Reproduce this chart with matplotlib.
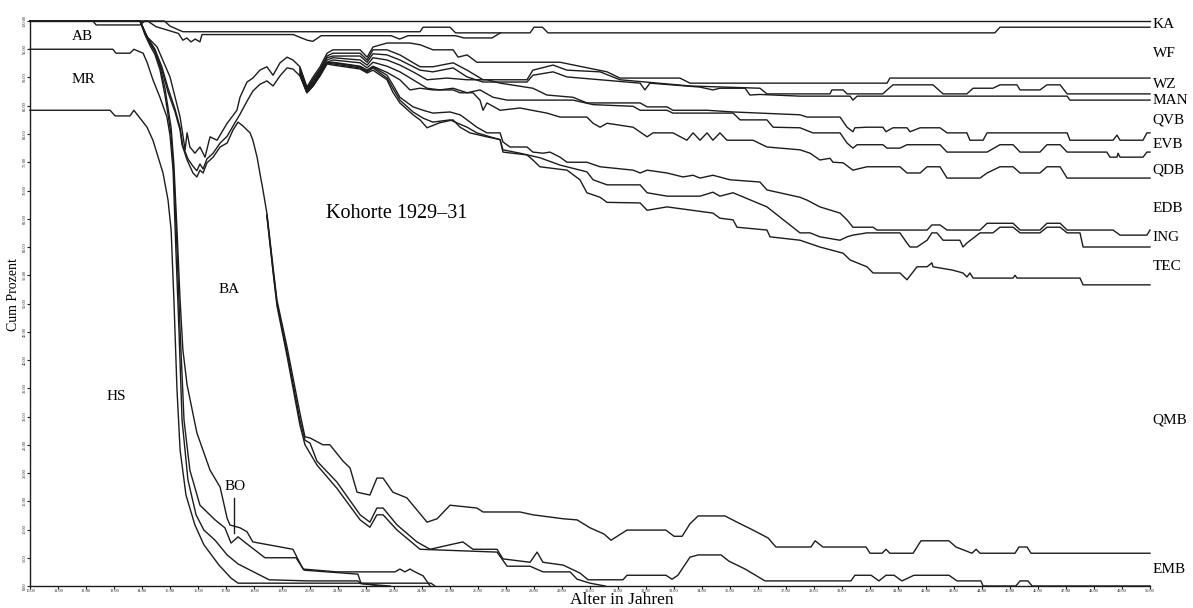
import matplotlib
matplotlib.use("Agg")
import matplotlib.pyplot as plt

plt.rcParams['font.family'] = ['Liberation Serif', 'DejaVu Serif']

# cumulative boundaries (age in years, cumulative percent), top to bottom
top_age = [10, 50]
top_pct = [100, 100]

ka_age = [10, 12.25, 12.36, 13.93, 14.1, 14.8, 15.0, 15.46, 23.93, 24.04, 25.0, 25.2, 27.86, 28.0, 28.3, 28.5, 44.46, 44.64, 50]
ka_pct = [100, 100, 99.3, 99.3, 100, 100, 99.1, 98.1, 98.1, 98.9, 98.9, 97.9, 97.9, 98.9, 98.9, 97.9, 97.9, 98.9, 98.9]

ka2_age = [10, 14.2, 14.5, 15.3, 15.46, 15.6, 15.75, 15.9, 16.07, 16.14, 19.4, 19.9, 20.1, 20.4, 22.9, 23.2, 23.5, 25.2, 25.5, 26.5, 26.8]
ka2_pct = [100, 100, 99.0, 97.8, 96.6, 97.0, 96.3, 96.8, 96.3, 97.6, 97.6, 96.6, 96.4, 97.4, 97.4, 96.8, 97.4, 97.4, 97.0, 97.0, 97.9]

wf_age = [10, 13.93, 14.18, 14.54, 15.0, 15.36, 15.54, 15.61, 15.71, 15.89, 16.07, 16.25, 16.43, 16.68, 17.04,
          17.39, 17.5, 17.75, 17.96, 18.21, 18.46, 18.68, 18.93, 19.18, 19.39, 19.64, 19.89, 20.11, 20.36, 20.61,
          20.82, 21.79, 22.04, 22.25, 22.75, 23.57, 23.93, 24.39, 25.11, 25.29, 25.61, 25.96, 28.93, 30.61, 31.07,
          33.21, 33.57, 40.61, 40.71, 50]
wf_pct = [100, 100, 97.2, 95.4, 90.1, 83.0, 77.2, 80.2, 77.7, 76.6, 77.7, 75.9, 79.5, 78.9, 81.9,
          84.2, 86.5, 89.2, 89.9, 91.3, 91.9, 90.4, 92.6, 93.6, 93.1, 91.9, 88.3, 90.1, 91.9, 94.3,
          94.9, 94.9, 93.6, 95.4, 96.1, 96.1, 95.8, 94.9, 94.9, 93.6, 94.0, 92.7, 92.7, 91.0, 89.9,
          89.9, 89.0, 89.0, 89.9, 89.9]

wz_age = [19.64, 19.89, 20.11, 20.36, 20.61, 20.82, 21.79, 22.04, 22.25, 22.75, 23.21, 23.93, 24.39, 25.11, 25.61,
          26.18, 27.75, 27.96, 28.68, 29.18, 30.36, 31.07, 33.57, 36.07, 36.32, 37.5, 38.57, 38.64, 39.04, 39.18,
          40.46, 40.61, 40.82, 42.25, 42.61, 43.46, 43.68, 44.39, 44.64, 45.25, 45.36, 46.07, 46.32, 46.79, 47.04, 50]
wz_pct = [91.7, 88.1, 89.7, 91.5, 93.8, 94.3, 94.3, 93.1, 94.9, 94.9, 94.0, 91.9, 91.9, 92.6, 91.3,
          89.6, 89.6, 91.3, 92.2, 91.3, 91.0, 89.6, 88.5, 88.1, 87.1, 87.1, 87.1, 87.8, 87.8, 87.1,
          87.1, 87.8, 88.7, 88.7, 87.1, 87.1, 88.1, 88.1, 88.7, 88.7, 87.8, 87.8, 88.7, 88.7, 87.1, 87.1]

man_age = [19.64, 19.89, 20.11, 20.36, 20.61, 20.82, 21.79, 22.04, 22.25, 22.75, 23.21, 23.93, 24.39, 25.11, 25.61,
           26.18, 27.75, 27.96, 28.68, 29.18, 30.36, 31.79, 31.96, 32.14, 33.93, 34.39, 34.64, 35.54, 35.71, 36.07,
           37.5, 39.29, 39.39, 39.54, 47.04, 47.14, 50]
man_pct = [91.5, 88.0, 89.6, 91.2, 93.5, 93.8, 93.8, 92.7, 94.2, 94.0, 93.1, 91.3, 91.0, 91.7, 90.1,
           89.2, 89.2, 90.4, 91.0, 90.1, 89.6, 89.0, 87.8, 89.0, 88.3, 87.8, 88.1, 88.1, 86.9, 87.0,
           86.7, 86.7, 86.0, 86.7, 86.7, 86.0, 86.0]

qvb_age = [19.64, 19.89, 20.11, 20.36, 20.61, 20.82, 21.79, 22.04, 22.25, 22.75, 23.21, 23.68, 24.18, 24.89, 25.61,
           26.32, 26.79, 27.96, 28.46, 29.39, 29.89, 31.79, 32.04, 32.75, 32.96, 34.18, 35.11, 37.5, 37.75, 38.93,
           39.18, 39.39, 39.46, 39.89, 40.46, 40.57, 40.82, 41.32, 41.43, 41.79, 42.5, 42.75, 43.46, 43.57, 44.04,
           44.18, 47.04, 47.14, 48.68, 48.82, 48.93, 49.75, 49.89, 50]
qvb_pct = [91.3, 87.8, 89.2, 91.0, 93.1, 93.5, 93.1, 92.2, 93.5, 93.1, 92.2, 91.0, 89.6, 89.9, 89.6,
           89.6, 89.0, 88.1, 86.9, 86.5, 85.5, 85.5, 84.8, 84.8, 84.2, 84.2, 83.9, 83.4, 83.0, 83.0,
           81.2, 80.4, 81.1, 81.2, 81.2, 80.4, 81.1, 81.1, 80.4, 81.1, 81.1, 80.2, 80.2, 78.9, 78.9,
           80.2, 80.2, 78.9, 78.9, 79.8, 78.9, 78.9, 80.2, 80.2]

evb_age = [19.64, 19.89, 20.11, 20.36, 20.61, 20.82, 21.79, 22.04, 22.25, 22.75, 23.21, 23.68, 24.18, 24.64, 25.11,
           25.61, 26.07, 26.54, 27.04, 28.93, 29.39, 30.11, 31.54, 31.79, 32.75, 32.96, 35.11, 35.36, 36.32, 36.54,
           37.5, 37.96, 38.93, 39.18, 39.39, 39.54, 40.46, 40.61, 41.07, 41.32, 42.5, 42.75, 44.18, 44.64, 45.11,
           45.36, 46.07, 46.32, 46.79, 47.04, 48.46, 48.57, 48.82, 48.86, 48.93, 49.75, 49.89, 50]
evb_pct = [91.0, 87.6, 89.0, 90.8, 92.7, 93.1, 92.6, 91.7, 92.7, 92.0, 91.0, 89.6, 88.1, 87.8, 88.1,
           87.3, 87.8, 86.5, 86.0, 86.0, 86.0, 85.2, 84.9, 84.2, 84.2, 83.7, 83.7, 82.5, 82.5, 81.2,
           81.1, 80.2, 80.2, 78.4, 77.5, 78.1, 78.1, 77.5, 77.5, 78.1, 78.1, 76.8, 76.8, 78.1, 78.1,
           76.8, 76.8, 78.1, 78.1, 76.8, 76.8, 75.9, 75.9, 76.6, 75.9, 75.9, 76.8, 76.8]

qdb_age = [19.64, 19.89, 20.11, 20.36, 20.61, 20.82, 21.79, 22.04, 22.25, 22.75, 23.21, 23.57, 23.93, 24.39, 25.11,
           25.36, 25.82, 26.07, 26.18, 26.32, 26.79, 27.5, 28.46, 28.93, 29.89, 30.11, 30.36, 30.61, 31.54, 32.04,
           32.25, 32.96, 33.46, 33.68, 33.93, 34.18, 34.39, 34.64, 34.89, 35.82, 36.32, 37.5, 37.86, 38.21, 38.57,
           38.68, 39.04, 39.39, 39.89, 41.07, 41.32, 41.79, 42.04, 42.5, 42.75, 43.93, 44.18, 44.64, 45.11, 45.36,
           46.07, 46.32, 46.79, 47.04, 50]
qdb_pct = [90.8, 87.4, 88.8, 90.6, 92.6, 92.7, 92.0, 91.3, 92.0, 90.9, 89.6, 87.8, 88.1, 87.8, 87.8,
           87.3, 87.3, 86.0, 84.2, 85.5, 84.2, 84.6, 83.7, 83.0, 83.0, 81.9, 81.2, 81.9, 81.2, 79.5,
           80.2, 80.2, 78.9, 80.2, 78.9, 80.2, 78.9, 80.2, 78.9, 78.9, 77.7, 77.2, 76.6, 75.4, 75.7,
           75.0, 74.9, 73.6, 74.2, 74.2, 73.1, 73.1, 74.2, 74.2, 72.2, 72.2, 73.1, 74.2, 74.2, 73.1,
           73.1, 74.2, 74.2, 72.2, 72.2]

edb_age = [19.64, 19.89, 20.11, 20.36, 20.61, 20.82, 21.79, 22.04, 22.25, 22.75, 22.96, 23.21, 23.68, 24.04, 24.39,
           25.0, 25.36, 25.61, 25.96, 26.32, 26.79, 26.89, 27.14, 27.75, 27.96, 28.32, 28.57, 28.93, 29.18, 29.89,
           30.36, 31.54, 31.79, 32.04, 32.75, 33.32, 33.68, 33.93, 34.39, 35.0, 36.07, 36.32, 37.5, 37.75, 38.21,
           38.93, 39.18, 39.39, 40.11, 40.25, 42.04, 42.21, 42.5, 42.75, 43.93, 44.18, 45.11, 45.36, 46.07, 46.32,
           46.79, 47.04, 48.68, 48.93, 49.89, 50]
edb_pct = [90.6, 87.4, 88.7, 90.4, 92.6, 92.6, 91.9, 91.2, 91.9, 90.4, 88.7, 86.5, 84.8, 84.2, 83.7,
           83.9, 83.4, 82.5, 81.2, 80.2, 80.2, 78.6, 77.7, 77.7, 76.8, 76.6, 76.8, 75.9, 75.0, 75.0,
           74.2, 73.6, 73.1, 73.6, 73.1, 72.4, 72.7, 72.2, 72.7, 71.9, 71.5, 70.1, 68.8, 68.3, 67.1,
           66.0, 64.8, 63.5, 63.5, 63.0, 63.0, 63.9, 63.9, 63.0, 63.0, 64.2, 64.2, 63.0, 63.0, 64.2,
           64.2, 63.0, 63.0, 62.1, 62.1, 63.0]

ing_age = [19.64, 19.89, 20.11, 20.36, 20.61, 20.82, 21.79, 22.04, 22.25, 22.75, 22.96, 23.21, 23.68, 24.04, 24.39,
           25.0, 25.61, 25.96, 26.43, 26.79, 26.89, 27.5, 28.21, 28.93, 29.89, 30.11, 30.61, 31.79, 32.04, 32.75,
           33.93, 34.39, 34.64, 35.11, 36.32, 37.14, 37.5, 37.86, 38.21, 38.93, 39.18, 39.39, 39.89, 41.07, 41.32,
           41.43, 41.68, 42.04, 42.21, 42.39, 42.61, 43.21, 43.32, 43.46, 43.93, 44.39, 44.64, 45.11, 45.36, 46.07,
           46.32, 46.79, 47.04, 47.5, 47.61, 50]
ing_pct = [90.4, 87.3, 88.5, 90.4, 92.6, 92.4, 91.7, 91.0, 91.7, 89.9, 88.1, 86.0, 83.9, 82.8, 82.1,
           82.5, 81.2, 80.2, 79.5, 79.0, 77.2, 76.6, 75.8, 74.5, 73.3, 71.9, 71.0, 71.0, 69.6, 69.0,
           69.0, 69.7, 69.0, 69.6, 67.1, 63.9, 62.5, 62.5, 61.8, 61.2, 61.8, 62.1, 62.5, 62.5, 60.7,
           60.0, 60.0, 61.2, 62.5, 62.5, 61.2, 61.2, 60.0, 60.7, 62.5, 62.5, 63.5, 63.5, 62.5, 62.5,
           63.5, 63.5, 62.5, 62.5, 60.0, 60.0]

tec_age = [10, 13.93, 14.18, 14.46, 14.71, 14.93, 15.18, 15.36, 15.46, 15.64, 15.82, 15.96, 16.07, 16.18, 16.32,
           16.54, 16.79, 17.04, 17.25, 17.5, 17.75, 17.96, 18.21, 18.46, 18.68, 18.93, 19.18, 19.39, 19.64, 19.89,
           20.11, 20.36, 20.61, 20.82, 21.79, 22.04, 22.25, 22.75, 22.96, 23.21, 23.68, 23.93, 24.18, 24.64, 25.11,
           25.36, 25.71, 26.32, 26.79, 26.89, 27.75, 27.96, 28.21, 29.18, 29.64, 29.89, 30.36, 30.61, 31.79, 32.04,
           32.75, 34.39, 34.64, 35.11, 35.25, 36.32, 36.43, 37.5, 38.21, 39.04, 39.29, 39.89, 40.11, 41.07, 41.32,
           41.68, 42.04, 42.21, 42.25, 42.96, 43.32, 43.46, 43.57, 43.68, 45.11, 45.18, 45.25, 47.5, 47.61, 50]
tec_pct = [100, 100, 97.2, 95.0, 91.9, 88.1, 84.4, 81.1, 77.9, 75.6, 74.3, 73.5, 74.7, 73.8, 75.6,
           76.6, 78.4, 79.6, 81.4, 83.5, 85.8, 87.6, 88.8, 89.4, 88.5, 90.3, 91.7, 91.5, 90.3, 87.3,
           88.5, 90.3, 92.4, 92.2, 91.5, 90.8, 91.3, 89.6, 87.4, 85.5, 83.4, 82.5, 81.1, 82.0, 82.5,
           81.2, 80.2, 79.5, 79.0, 76.8, 76.3, 75.4, 74.2, 73.6, 71.9, 69.6, 68.8, 67.9, 67.8, 66.5,
           67.1, 66.0, 65.1, 64.8, 63.5, 63.0, 61.8, 61.2, 60.0, 58.9, 57.7, 56.5, 55.4, 55.4, 54.2,
           56.5, 56.5, 57.2, 56.5, 55.9, 55.4, 54.7, 55.4, 54.5, 54.5, 55.0, 54.5, 54.5, 53.3, 53.3]

emb_age = [10, 13.93, 14.18, 14.46, 14.71, 14.93, 15.18, 15.36, 15.43, 15.61, 15.82, 15.96, 16.07, 16.18, 16.32,
           16.54, 16.79, 17.04, 17.25, 17.43, 17.61, 17.86, 17.96, 18.11, 18.21, 18.32, 18.46, 18.68, 18.82, 19.18,
           19.64, 19.82, 20.0, 20.46, 20.71, 21.18, 21.43, 21.68, 22.14, 22.39, 22.61, 22.96, 23.46, 24.18, 24.54,
           25.0, 25.96, 26.18, 27.5, 27.96, 29.04, 29.54, 30.0, 30.5, 30.75, 31.32, 32.71, 33.0, 33.29, 33.57,
           33.86, 34.82, 35.25, 35.82, 36.36, 36.64, 37.89, 38.04, 38.32, 39.86, 40.0, 40.43, 40.57, 40.71, 41.54,
           41.82, 42.82, 43.07, 43.64, 43.79, 43.93, 45.18, 45.32, 45.61, 45.75, 50]
emb_pct = [100, 100, 97.2, 94.9, 91.3, 87.4, 83.9, 80.7, 78.1, 75.4, 73.1, 72.4, 73.6, 73.1, 74.9,
           75.9, 77.7, 78.4, 80.7, 82.1, 81.4, 80.2, 78.9, 75.9, 73.1, 70.1, 66.0, 56.5, 50.6, 42.3,
           30.6, 26.4, 26.2, 25.0, 25.0, 22.1, 20.9, 16.6, 16.1, 19.1, 19.1, 16.6, 15.6, 11.3, 11.9,
           14.3, 13.8, 13.1, 13.1, 12.6, 11.9, 11.7, 10.3, 9.2, 8.1, 9.9, 9.9, 8.8, 8.8, 11.0,
           12.4, 12.4, 11.3, 9.9, 8.5, 6.9, 6.9, 8.0, 6.9, 6.9, 5.8, 5.8, 6.5, 5.8, 5.8,
           8.0, 8.0, 6.9, 5.8, 6.5, 5.8, 5.8, 6.9, 6.9, 5.8, 5.8]

low1_age = [18.46, 18.68, 18.82, 19.18, 19.64, 19.82, 20.0, 20.25, 20.96, 21.79, 22.14, 22.39, 22.61, 23.11, 23.82,
            24.29, 25.0, 25.46, 25.82, 26.68, 26.89, 27.86, 28.11, 28.32, 29.04, 29.64, 29.93, 31.18, 31.32, 32.71,
            32.93, 33.14, 33.57, 33.86, 34.68, 34.96, 35.54, 36.25, 39.32, 39.46, 40.04, 40.32, 40.57, 40.86, 41.14,
            41.57, 42.82, 43.11, 43.96, 44.04, 45.21, 45.36, 45.64, 45.79, 50]
low1_pct = [65.7, 55.9, 50.1, 41.4, 29.4, 25.8, 25.3, 22.1, 18.4, 12.6, 11.3, 13.8, 13.8, 10.8, 7.8,
            6.5, 7.3, 7.8, 6.5, 6.5, 4.8, 4.2, 6.0, 4.2, 3.7, 2.3, 1.1, 1.1, 1.9, 1.9,
            1.2, 1.9, 5.1, 5.5, 5.5, 4.4, 3.0, 0.9, 0.9, 1.9, 1.9, 0.9, 1.9, 1.9, 0.9,
            1.9, 1.9, 0.9, 0.9, 0, 0, 0.9, 0.9, 0, 0]

low2_age = [18.46, 18.68, 18.82, 19.18, 19.64, 19.82, 20.25, 20.96, 21.79, 22.14, 22.39, 22.61, 23.11, 23.93, 26.68,
            27.04, 27.86, 28.32, 29.29, 29.54, 30.0, 30.54]
low2_pct = [65.5, 55.6, 49.6, 40.7, 28.5, 25.0, 21.4, 17.3, 11.7, 10.4, 12.6, 12.6, 9.9, 6.5, 6.0,
            3.5, 3.5, 2.5, 2.5, 1.2, 0.5, 0]

ba_age = [10, 13.93, 14.11, 14.29, 14.46, 14.64, 14.82, 14.93, 15.04, 15.14, 15.25, 15.36, 15.46, 15.61, 15.96,
          16.43, 16.79, 17.04, 17.14, 17.5, 17.75, 17.96, 19.39, 19.75, 20.96, 23.04, 23.21, 23.39, 23.57, 23.75,
          24.04, 24.29]
ba_pct = [100, 100, 97.8, 96.0, 94.6, 92.0, 88.1, 84.6, 81.1, 74.5, 63.0, 50.6, 41.8, 35.6, 27.1,
          20.5, 17.5, 12.0, 10.8, 10.3, 9.6, 7.8, 6.5, 3.0, 2.5, 2.5, 3.0, 2.5, 3.0, 2.5,
          1.8, 0]

bo_age = [10, 13.93, 14.11, 14.29, 14.46, 14.64, 14.82, 14.93, 15.04, 15.14, 15.25, 15.36, 15.5, 15.71, 16.07,
          16.61, 16.96, 17.18, 17.43, 17.71, 18.39, 19.5, 19.79, 21.71, 21.82, 22.5]
bo_pct = [100, 100, 97.5, 95.6, 94.1, 91.4, 86.9, 83.4, 79.8, 72.7, 59.5, 45.3, 29.4, 20.5, 14.3,
          11.7, 10.3, 7.6, 8.7, 7.6, 5.0, 5.0, 2.8, 2.1, 0.5, 0]

ab_age = [10, 12.96, 13.07, 13.57, 13.71, 14.04, 14.18, 14.39, 14.64, 14.89, 15.0, 15.11, 15.21, 15.32, 15.43,
          15.64, 15.93, 16.21, 16.61, 17.04, 17.43, 18.54, 19.93, 21.71, 21.82, 22.86]
ab_pct = [95.0, 95.0, 94.3, 94.3, 95.0, 94.3, 92.7, 89.6, 86.5, 83.0, 79.8, 73.6, 59.5, 45.3, 29.4,
          18.8, 12.6, 9.9, 8.1, 5.5, 3.9, 1.1, 0.9, 0.9, 0.4, 0]

mr_age = [10, 12.86, 13.04, 13.57, 13.71, 14.04, 14.18, 14.39, 14.75, 14.93, 15.04, 15.14, 15.25, 15.36, 15.57,
          15.89, 16.21, 16.75, 17.18, 17.43, 24.32, 24.46]
mr_pct = [84.2, 84.2, 83.2, 83.2, 84.2, 82.1, 81.2, 78.9, 73.1, 68.3, 63.0, 50.6, 34.7, 24.1, 16.1,
          10.8, 7.3, 3.7, 1.4, 0.5, 0.5, 0]

right_labels = ['KA', 'WF', 'WZ', 'MAN', 'QVB', 'EVB', 'QDB', 'EDB', 'ING', 'TEC', 'QMB', 'EMB']
x_ticks = list(range(10, 51))
y_ticks = list(range(0, 101, 5))

curves = [(top_age, top_pct), (ka_age, ka_pct), (ka2_age, ka2_pct), (wf_age, wf_pct),
          (wz_age, wz_pct), (man_age, man_pct), (qvb_age, qvb_pct), (evb_age, evb_pct),
          (qdb_age, qdb_pct), (edb_age, edb_pct), (ing_age, ing_pct), (tec_age, tec_pct),
          (emb_age, emb_pct), (low1_age, low1_pct), (low2_age, low2_pct), (ba_age, ba_pct),
          (bo_age, bo_pct), (ab_age, ab_pct), (mr_age, mr_pct)]

ink = '#1c1c1c'
fig = plt.figure(figsize=(11.93, 6.08), dpi=100)
ax = fig.add_axes([30 / 1193, 22 / 608, 1120 / 1193, 565 / 608])

for a, p in curves:
    ax.plot(a, p, color=ink, lw=1.0, clip_on=False)

ax.set_xlim(10, 50)
ax.set_ylim(0, 100)
for side in ['top', 'right']:
    ax.spines[side].set_visible(False)
for side in ['left', 'bottom']:
    ax.spines[side].set_color(ink)
    ax.spines[side].set_linewidth(1.0)

ax.set_xticks(x_ticks)
ax.set_xticklabels([f'{v:.2f}' for v in x_ticks], fontsize=3.2)
ax.set_yticks(y_ticks)
ax.set_yticklabels([f'{v:.2f}' for v in y_ticks], fontsize=3.2, rotation=90, va='center')
ax.tick_params(axis='both', direction='out', length=2, width=0.8, pad=0.4, colors=ink)

xl = ax.set_xlabel('Alter in Jahren', fontsize=12.5)
xl.set_va('bottom')
ax.xaxis.set_label_coords(0.528, -0.0385)
ax.set_ylabel('Cum Prozent', fontsize=10)
ax.yaxis.set_label_coords(-0.0085, 0.515)

# labels for the states
right_y = [99.3, 94.3, 88.7, 86.0, 82.5, 78.1, 73.6, 66.9, 61.6, 56.5, 29.4, 3.0]
for name, yv in zip(right_labels, right_y):
    ax.text(50.1, yv, name, fontsize=11, ha='left', va='center', clip_on=False)

ax.text(11.88, 97.2, 'AB', fontsize=11, ha='center', va='center')
ax.text(11.9, 89.7, 'MR', fontsize=11, ha='center', va='center')
ax.text(13.07, 33.5, 'HS', fontsize=11, ha='center', va='center')
ax.text(17.1, 52.4, 'BA', fontsize=11, ha='center', va='center')
ax.text(17.32, 17.6, 'BO', fontsize=11, ha='center', va='center')
ax.plot([17.29, 17.29], [15.6, 9.3], color=ink, lw=1.0)
ax.text(23.1, 66.0, 'Kohorte 1929\u201331', fontsize=14.5, ha='center', va='center')

fig.savefig('out.png', dpi=100)
